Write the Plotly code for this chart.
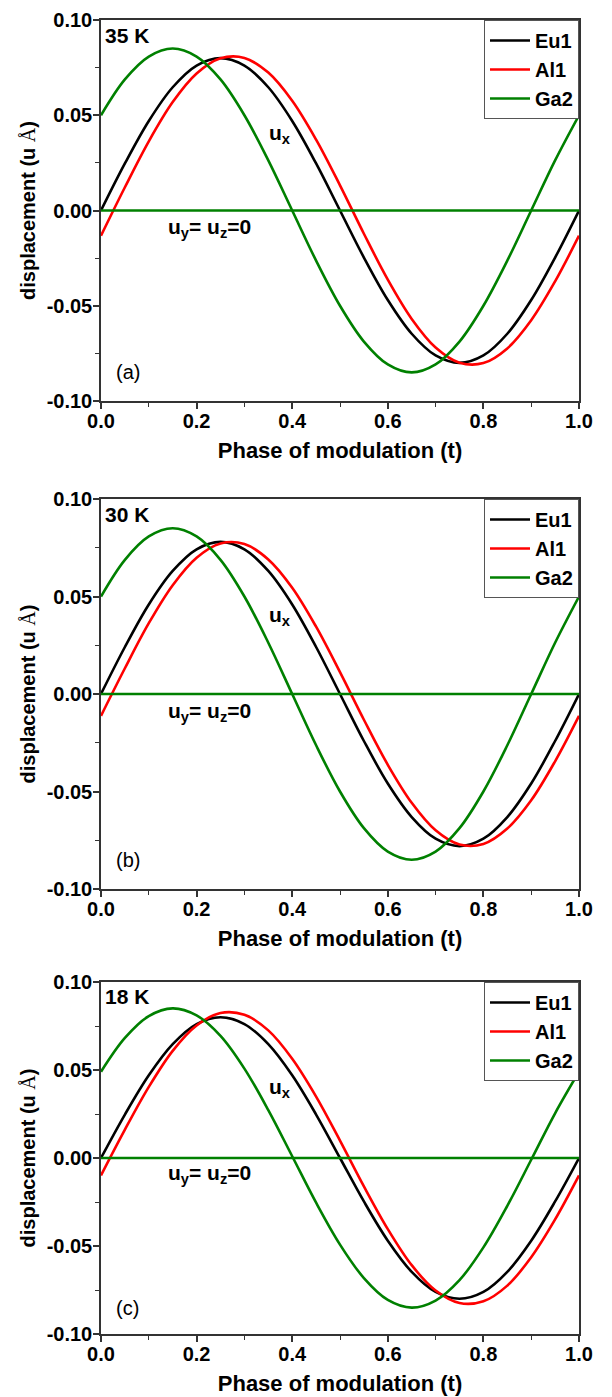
import plotly.graph_objects as go

# ---------------- data ----------------
t = [0.00, 0.05, 0.10, 0.15, 0.20, 0.25, 0.30, 0.35, 0.40, 0.45, 0.50,
     0.55, 0.60, 0.65, 0.70, 0.75, 0.80, 0.85, 0.90, 0.95, 1.00]

# 35 K
eu1_35 = [0.0000, 0.0247, 0.0470, 0.0647, 0.0761, 0.0800, 0.0761, 0.0647, 0.0470, 0.0247, 0.0000,
          -0.0247, -0.0470, -0.0647, -0.0761, -0.0800, -0.0761, -0.0647, -0.0470, -0.0247, 0.0000]
al1_35 = [-0.0132, 0.0122, 0.0363, 0.0569, 0.0719, 0.0799, 0.0801, 0.0724, 0.0576, 0.0372, 0.0132,
          -0.0122, -0.0363, -0.0569, -0.0719, -0.0799, -0.0801, -0.0724, -0.0576, -0.0372, -0.0132]
ga2_35 = [0.0500, 0.0688, 0.0808, 0.0850, 0.0808, 0.0688, 0.0500, 0.0263, 0.0000, -0.0263, -0.0500,
          -0.0688, -0.0808, -0.0850, -0.0808, -0.0688, -0.0500, -0.0263, 0.0000, 0.0263, 0.0500]

# 30 K
eu1_30 = [0.0000, 0.0241, 0.0459, 0.0631, 0.0742, 0.0780, 0.0742, 0.0631, 0.0459, 0.0241, 0.0000,
          -0.0241, -0.0459, -0.0631, -0.0742, -0.0780, -0.0742, -0.0631, -0.0459, -0.0241, 0.0000]
al1_30 = [-0.0112, 0.0132, 0.0363, 0.0558, 0.0699, 0.0772, 0.0769, 0.0690, 0.0545, 0.0345, 0.0112,
          -0.0132, -0.0363, -0.0558, -0.0699, -0.0772, -0.0769, -0.0690, -0.0545, -0.0345, -0.0112]
ga2_30 = [0.0500, 0.0688, 0.0808, 0.0850, 0.0808, 0.0688, 0.0500, 0.0263, 0.0000, -0.0263, -0.0500,
          -0.0688, -0.0808, -0.0850, -0.0808, -0.0688, -0.0500, -0.0263, 0.0000, 0.0263, 0.0500]

# 18 K
eu1_18 = [0.0000, 0.0247, 0.0470, 0.0647, 0.0761, 0.0800, 0.0761, 0.0647, 0.0470, 0.0247, 0.0000,
          -0.0247, -0.0470, -0.0647, -0.0761, -0.0800, -0.0761, -0.0647, -0.0470, -0.0247, 0.0000]
al1_18 = [-0.0099, 0.0161, 0.0404, 0.0609, 0.0753, 0.0824, 0.0814, 0.0725, 0.0564, 0.0349, 0.0099,
          -0.0161, -0.0404, -0.0609, -0.0753, -0.0824, -0.0814, -0.0725, -0.0564, -0.0349, -0.0099]
ga2_18 = [0.0490, 0.0682, 0.0806, 0.0850, 0.0810, 0.0694, 0.0508, 0.0272, 0.0010, -0.0254, -0.0492,
          -0.0682, -0.0806, -0.0850, -0.0810, -0.0694, -0.0508, -0.0272, -0.0010, 0.0254, 0.0490]

zero_t = [0.0, 1.0]
zero_u = [0.0, 0.0]

series_names = ["Eu1", "Al1", "Ga2"]
panel_temps = ["35 K", "30 K", "18 K"]
panel_tags = ["(a)", "(b)", "(c)"]
panel_data = [(eu1_35, al1_35, ga2_35), (eu1_30, al1_30, ga2_30), (eu1_18, al1_18, ga2_18)]

x_tickvals = [0.0, 0.2, 0.4, 0.6, 0.8, 1.0]
x_ticktext = ["0.0", "0.2", "0.4", "0.6", "0.8", "1.0"]
y_tickvals = [-0.10, -0.05, 0.00, 0.05, 0.10]
y_ticktext = ["-0.10", "-0.05", "0.00", "0.05", "0.10"]

# ---------------- styling ----------------
# page body has an 8px margin, so the figure is sized to fit the 612x1397 window
W, H = 604, 1389
colors = ["#000000", "#ff0000", "#008000"]
FONT = "Liberation Sans, Arial, sans-serif"
panel_px = [(12, 393), (491, 881), (974, 1326)]
domains = [[1 - b / H, 1 - a / H] for a, b in panel_px]

fig = go.Figure()
layout = dict(
    width=W, height=H,
    margin=dict(l=93, r=33, t=0, b=0),
    paper_bgcolor="white", plot_bgcolor="white",
    font=dict(family=FONT, color="#000"),
    annotations=[],
)

for i in range(3):
    sfx = "" if i == 0 else str(i + 1)
    xa, ya = "x" + sfx, "y" + sfx
    leg = "legend" + sfx
    for k, (name, ys) in enumerate(zip(series_names, panel_data[i])):
        fig.add_trace(go.Scatter(
            x=t, y=ys, mode="lines", name=name,
            line=dict(color=colors[k], width=2.6, shape="spline", smoothing=1.0),
            xaxis=xa, yaxis=ya, legend=leg, showlegend=True,
        ))
    fig.add_trace(go.Scatter(
        x=zero_t, y=zero_u, mode="lines", name="u_y=u_z=0",
        line=dict(color=colors[2], width=2.6),
        xaxis=xa, yaxis=ya, showlegend=False,
    ))

    layout["xaxis" + sfx] = dict(
        domain=[0, 1], anchor=ya, range=[0, 1],
        tickvals=x_tickvals, ticktext=x_ticktext,
        ticks="outside", ticklen=6, tickwidth=1.5, tickcolor="#333",
        ticklabelstandoff=-5, ticklabeloverflow="allow",
        minor=dict(tickvals=[0.1, 0.3, 0.5, 0.7, 0.9], ticks="outside", ticklen=4, tickwidth=1.2, tickcolor="#333"),
        showline=True, linecolor="#333", linewidth=1.5, mirror=True,
        showgrid=False, zeroline=False,
        tickfont=dict(family=FONT, size=20, weight="bold", color="#000"),
        title=dict(text="Phase of modulation (t)", standoff=12,
                   font=dict(family=FONT, size=22, weight="bold", color="#000")),
        automargin=False,
    )
    layout["yaxis" + sfx] = dict(
        domain=domains[i], anchor=xa, range=[-0.10, 0.10],
        tickvals=y_tickvals, ticktext=y_ticktext,
        ticks="outside", ticklen=6, tickwidth=1.5, tickcolor="#333",
        ticklabelstandoff=-3, ticklabeloverflow="allow",
        minor=dict(tickvals=[-0.075, -0.025, 0.025, 0.075], ticks="outside", ticklen=4, tickwidth=1.2, tickcolor="#333"),
        showline=True, linecolor="#333", linewidth=1.5, mirror=True,
        showgrid=False, zeroline=False,
        tickfont=dict(family=FONT, size=20, weight="bold", color="#000"),
        title=dict(text="displacement (u <span style='font-family:Liberation Serif, serif;font-weight:normal'>Å</span>)",
                   standoff=6,
                   font=dict(family=FONT, size=20, weight="bold", color="#000")),
        automargin=False,
    )
    layout[leg] = dict(
        x=1, xanchor="right", y=domains[i][1], yanchor="top",
        bordercolor="#555", borderwidth=1, bgcolor="white",
        font=dict(family=FONT, size=20, weight="bold", color="#000"),
        tracegroupgap=0, itemwidth=40,
    )
    layout["annotations"] += [
        dict(x=0.005, y=0.092, xref=xa, yref=ya, text=panel_temps[i], showarrow=False,
             xanchor="left", yanchor="middle",
             font=dict(family=FONT, size=21, weight="bold", color="#000")),
        dict(x=0.375, y=0.040, xref=xa, yref=ya, text="u<sub>x</sub>", showarrow=False,
             xanchor="center", yanchor="middle",
             font=dict(family=FONT, size=21, weight="bold", color="#000")),
        dict(x=0.228, y=-0.009, xref=xa, yref=ya, text="u<sub>y</sub>= u<sub>z</sub>=0", showarrow=False,
             xanchor="center", yanchor="middle",
             font=dict(family=FONT, size=21, weight="bold", color="#000")),
        dict(x=0.028, y=-0.085, xref=xa, yref=ya, text=panel_tags[i], showarrow=False,
             xanchor="left", yanchor="middle",
             font=dict(family=FONT, size=20, color="#000")),
    ]

fig.update_layout(**layout)
fig.write_html("out.html")
